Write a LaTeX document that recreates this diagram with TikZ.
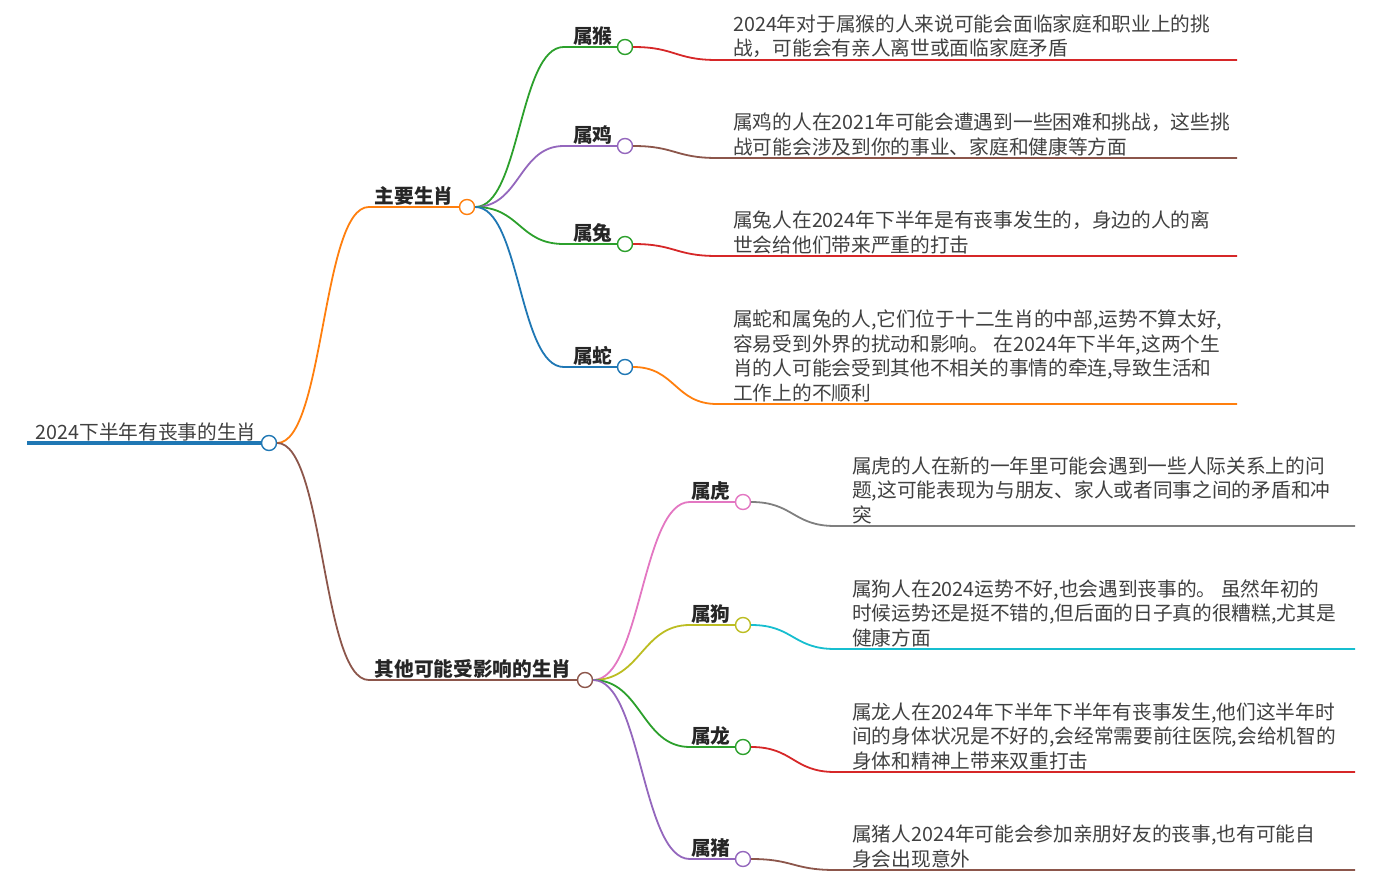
\documentclass[tikz,border=0pt]{standalone}
\usepackage{fontspec}
\setmainfont{Noto Sans CJK SC}
\usetikzlibrary{positioning}
\definecolor{tblue}{HTML}{1F77B4}
\definecolor{torange}{HTML}{FF7F0E}
\definecolor{tgreen}{HTML}{2CA02C}
\definecolor{tred}{HTML}{D62728}
\definecolor{tpurple}{HTML}{9467BD}
\definecolor{tbrown}{HTML}{8C564B}
\definecolor{tpink}{HTML}{E377C2}
\definecolor{tgray}{HTML}{7F7F7F}
\definecolor{tolive}{HTML}{BCBD22}
\definecolor{tcyan}{HTML}{17BECF}
\newcommand\mapsize{\fontsize{19.7}{24.5}\selectfont}
\begin{document}
\begin{tikzpicture}[x=1pt, y=-1pt,
	dot/.style={ circle, draw, line width=1.4pt, fill=white, inner sep=0pt, minimum size=15pt },
	branch/.style={ line width=1.8pt },
	topic/.style={ font=\mapsize\bfseries, text=black!85, inner sep=0pt },
	desc/.style={ font=\mapsize, text=black!75, align=left, inner sep=0pt }
]
\useasboundingbox (0,0) rectangle (1379,877);

% root
\node at (269,443) (root) [dot,draw=tblue] {};
\coordinate (rootl) at (27,443);
\draw[line width=4pt,tblue] (rootl) -- (root.west);
\node (roott) [desc,above left=2pt and 4pt of root.west] {2024下半年有丧事的生肖};

% first level
\node at (467,207) (main) [dot,draw=torange] {};
\node (maint) [topic,above left=1pt and 5pt of main.west] {主要生肖};
\node at (585,680) (other) [dot,draw=tbrown] {};
\node (othert) [topic,above left=1pt and 5pt of other.west] {其他可能受影响的生肖};
\foreach \p/\c/\s in {main/torange/90,other/tbrown/208}
	\draw[branch,\c] (root.east) .. controls +(47,0) and +(-47,0) .. ([xshift=-\s pt]\p.west) -- (\p.west);

% main zodiacs
\node at (625,47) (hou) [dot,draw=tgreen] {};
\node (hout) [topic,above left=1pt and 4pt of hou.west] {属猴};
\node at (625,146) (ji) [dot,draw=tpurple] {};
\node (jit) [topic,above left=1pt and 4pt of ji.west] {属鸡};
\node at (625,244) (tu) [dot,draw=tgreen] {};
\node (tut) [topic,above left=1pt and 4pt of tu.west] {属兔};
\node at (625,367) (she) [dot,draw=tblue] {};
\node (shet) [topic,above left=1pt and 4pt of she.west] {属蛇};
\foreach \p/\c in {hou/tgreen,ji/tpurple,tu/tgreen,she/tblue}
	\draw[branch,\c] (main.east) .. controls +(45,0) and +(-45,0) .. ([xshift=-53pt]\p.west) -- (\p.west);

% other zodiacs
\node at (743,502) (hu) [dot,draw=tpink] {};
\node (hut) [topic,above left=1pt and 4pt of hu.west] {属虎};
\node at (743,625) (gou) [dot,draw=tolive] {};
\node (gout) [topic,above left=1pt and 4pt of gou.west] {属狗};
\node at (743,747) (long) [dot,draw=tgreen] {};
\node (longt) [topic,above left=1pt and 4pt of long.west] {属龙};
\node at (743,859) (zhu) [dot,draw=tpurple] {};
\node (zhut) [topic,above left=1pt and 4pt of zhu.west] {属猪};
\foreach \p/\c in {hu/tpink,gou/tolive,long/tgreen,zhu/tpurple}
	\draw[branch,\c] (other.east) .. controls +(48,0) and +(-48,0) .. ([xshift=-45pt]\p.west) -- (\p.west);

% descriptions
\coordinate (houa) at (717,60);   \coordinate (houb) at (1237,60);
\coordinate (jia) at (717,158);   \coordinate (jib) at (1237,158);
\coordinate (tua) at (717,256);   \coordinate (tub) at (1237,256);
\coordinate (shea) at (717,404);  \coordinate (sheb) at (1237,404);
\coordinate (hua) at (835,526);   \coordinate (hub) at (1355,526);
\coordinate (goua) at (835,649);  \coordinate (goub) at (1355,649);
\coordinate (longa) at (835,772); \coordinate (longb) at (1355,772);
\coordinate (zhua) at (835,870);  \coordinate (zhub) at (1355,870);
\foreach \p/\c in {hou/tred,ji/tbrown,tu/tred,she/torange,hu/tgray,gou/tcyan,long/tred,zhu/tbrown}
	\draw[branch,\c] (\p.east) .. controls +(42,0) and +(-42,0) .. (\p a) -- (\p b);

\node (houd) [desc,above right=2pt and 16pt of houa] {2024年对于属猴的人来说可能会面临家庭和职业上的挑\\战，可能会有亲人离世或面临家庭矛盾};
\node (jid) [desc,above right=2pt and 16pt of jia] {属鸡的人在2021年可能会遭遇到一些困难和挑战，这些挑\\战可能会涉及到你的事业、家庭和健康等方面};
\node (tud) [desc,above right=2pt and 16pt of tua] {属兔人在2024年下半年是有丧事发生的，身边的人的离\\世会给他们带来严重的打击};
\node (shed) [desc,above right=2pt and 16pt of shea] {属蛇和属兔的人,它们位于十二生肖的中部,运势不算太好,\\容易受到外界的扰动和影响。 在2024年下半年,这两个生\\肖的人可能会受到其他不相关的事情的牵连,导致生活和\\工作上的不顺利};
\node (hud) [desc,above right=2pt and 17pt of hua] {属虎的人在新的一年里可能会遇到一些人际关系上的问\\题,这可能表现为与朋友、家人或者同事之间的矛盾和冲\\突};
\node (goud) [desc,above right=2pt and 17pt of goua] {属狗人在2024运势不好,也会遇到丧事的。 虽然年初的\\时候运势还是挺不错的,但后面的日子真的很糟糕,尤其是\\健康方面};
\node (longd) [desc,above right=2pt and 17pt of longa] {属龙人在2024年下半年下半年有丧事发生,他们这半年时\\间的身体状况是不好的,会经常需要前往医院,会给机智的\\身体和精神上带来双重打击};
\node (zhud) [desc,above right=2pt and 17pt of zhua] {属猪人2024年可能会参加亲朋好友的丧事,也有可能自\\身会出现意外};

\end{tikzpicture}
\end{document}
